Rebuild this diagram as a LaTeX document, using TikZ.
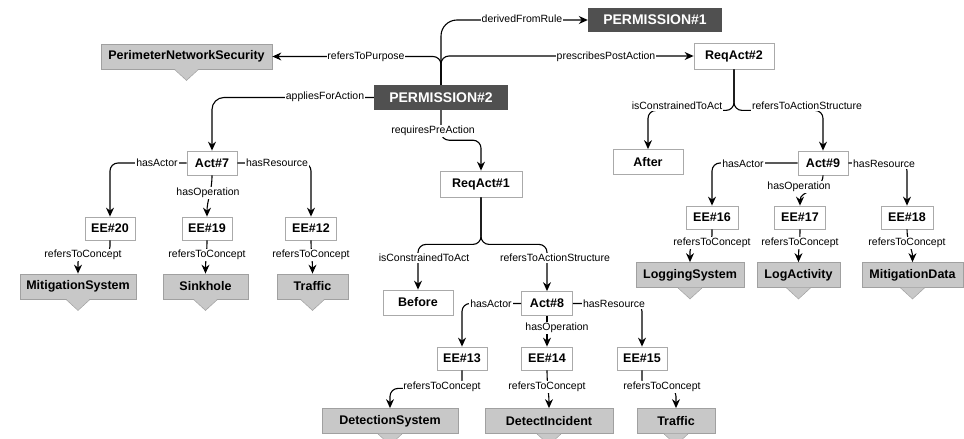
\documentclass[tikz,border=0pt]{standalone}
\usepackage{fontspec}
\setmainfont{Liberation Sans}
\usetikzlibrary{arrows.meta}

\definecolor{permfill}{HTML}{505050}
\definecolor{instborder}{HTML}{AAAAAA}
\definecolor{conceptfill}{HTML}{C8C8C8}
\definecolor{conceptborder}{HTML}{A0A0A0}

\tikzset{
  perm/.style={fill=permfill, text=white, inner sep=0pt, minimum height=24pt,
    font=\bfseries\fontsize{14}{16}\selectfont},
  inst/.style={draw=instborder, fill=white, line width=0.8pt, inner sep=0pt,
    minimum height=24pt, font=\bfseries\fontsize{12.5}{14}\selectfont},
  concept/.style={draw=conceptborder, fill=conceptfill, line width=0.8pt, inner sep=0pt,
    minimum height=25pt, font=\bfseries\fontsize{12.5}{14}\selectfont},
  lbl/.style={fill=white, inner sep=0.8pt, font=\fontsize{10.5}{12}\selectfont},
  edge/.style={draw, line width=1.1pt, rounded corners=8pt,
    -{Stealth[length=9pt,width=8pt,inset=3pt]}},
}

\begin{document}
\begin{tikzpicture}[x=1pt,y=-1pt]
\useasboundingbox (0,0) rectangle (964,439);

% permissions
\node[perm, minimum width=134pt] (p1) at (655,20) {PERMISSION\#1};
\node[perm, minimum width=134pt, minimum height=25pt] (p2) at (441,97.5) {PERMISSION\#2};

% required actions, actions, constraints
\node[inst, minimum width=80pt, minimum height=26pt] (ra2) at (734,56) {ReqAct\#2};
\node[inst, minimum width=82pt, minimum height=26pt] (ra1) at (481,184) {ReqAct\#1};
\node[inst, minimum width=70pt, minimum height=25pt] (after) at (648,162) {After};
\node[inst, minimum width=70pt, minimum height=25pt] (before) at (418,302.5) {Before};
\node[inst, minimum width=50pt] (a7) at (212,163) {Act\#7};
\node[inst, minimum width=51pt] (a8) at (547,303.5) {Act\#8};
\node[inst, minimum width=50pt] (a9) at (823,163) {Act\#9};

% entity expressions
\node[inst, minimum width=50pt, minimum height=23pt] (ee20) at (110,228.5) {EE\#20};
\node[inst, minimum width=50pt, minimum height=23pt] (ee19) at (207,228.5) {EE\#19};
\node[inst, minimum width=51pt, minimum height=23pt] (ee12) at (311,228.5) {EE\#12};
\node[inst, minimum width=52pt, minimum height=23pt] (ee16) at (712,217.5) {EE\#16};
\node[inst, minimum width=51pt, minimum height=23pt] (ee17) at (800,217.5) {EE\#17};
\node[inst, minimum width=52pt, minimum height=23pt] (ee18) at (907,217.5) {EE\#18};
\node[inst, minimum width=50pt, minimum height=23pt] (ee13) at (462,358.5) {EE\#13};
\node[inst, minimum width=51pt, minimum height=23pt] (ee14) at (547,358.5) {EE\#14};
\node[inst, minimum width=50pt, minimum height=23pt] (ee15) at (642,358.5) {EE\#15};

% concepts
\node[concept, minimum width=171pt] (pns) at (186.5,56.5) {PerimeterNetworkSecurity};
\node[concept, minimum width=116pt] (mitsys) at (78,286.5) {MitigationSystem};
\node[concept, minimum width=85pt] (sinkhole) at (205.5,286.5) {Sinkhole};
\node[concept, minimum width=71pt] (traffica) at (312.5,286.5) {Traffic};
\node[concept, minimum width=108pt] (logsys) at (690,275) {LoggingSystem};
\node[concept, minimum width=83pt] (logact) at (798.5,275) {LogActivity};
\node[concept, minimum width=101pt] (mitdata) at (912.5,275) {MitigationData};
\node[concept, minimum width=136pt] (detsys) at (390,421) {DetectionSystem};
\node[concept, minimum width=128pt] (detinc) at (549,421) {DetectIncident};
\node[concept, minimum width=78pt] (trafficb) at (676,421) {Traffic};

% pointer triangles below the concepts
\foreach \c in {pns,mitsys,sinkhole,traffica,logsys,logact,mitdata,detsys,detinc,trafficb}{
  \fill[conceptfill] ([xshift=-12pt,yshift=0.4pt]\c.south) -- ++(24,0) -- ++(-12,11) -- cycle;
  \draw[conceptborder, line width=0.6pt] ([xshift=-12pt]\c.south) -- ++(12,11) -- ++(12,-11);
}

% connectors from PERMISSION#2
\draw[edge, rounded corners=16pt] (p2.north) |- (p1.west);
\draw[edge] (p2.north) |- (pns.east);
\draw[edge] (p2.north) |- (ra2.west);
\draw[edge, rounded corners=12pt] (p2.west) -| (a7.north);
\draw[edge] (p2.south) -- ++(0,30) -| (ra1.north);

% ReqAct#1 branch
\draw[edge] (ra1.south) -- ++(0,47) -| (before.north);
\draw[edge] (ra1.south) -- ++(0,47) -| (a8.north);
\draw[edge] (a8.west) -| (ee13.north);
\draw[edge] (a8.south) -- (ee14.north);
\draw[edge] (a8.east) -| (ee15.north);
\draw[edge] (ee13.south) -- ++(0,18) -| (detsys.north);
\draw[edge] (ee14.south) to[out=-90,in=90] (detinc.north);
\draw[edge] (ee15.south) -- ++(0,18) -| (trafficb.north);

% Act#7 branch
\draw[edge] (a7.west) -| (ee20.north);
\draw[edge] (a7.south) to[out=-90,in=90] (ee19.north);
\draw[edge] (a7.east) -| (ee12.north);
\draw[edge] (ee20.south) -- ++(0,14) -| (mitsys.north);
\draw[edge] (ee19.south) to[out=-90,in=90] (sinkhole.north);
\draw[edge] (ee12.south) to[out=-90,in=90] (traffica.north);

% ReqAct#2 branch
\draw[edge] (ra2.south) -- ++(0,41) -| (after.north);
\draw[edge] (ra2.south) -- ++(0,41) -| (a9.north);
\draw[edge] (a9.west) -| (ee16.north);
\draw[edge] (a9.south) to[out=-90,in=90] (ee17.north);
\draw[edge] (a9.east) -| (ee18.north);
\draw[edge] (ee16.south) -- ++(0,14) -| (logsys.north);
\draw[edge] (ee17.south) to[out=-90,in=90] (logact.north);
\draw[edge] (ee18.south) to[out=-90,in=90] (mitdata.north);

% connector labels
\node[lbl] (l1) at (522,19) {derivedFromRule};
\node[lbl] (l2) at (366,57) {refersToPurpose};
\node[lbl] (l3) at (606,57) {prescribesPostAction};
\node[lbl] (l4) at (325,97) {appliesForAction};
\node[lbl] (l5) at (433,131) {requiresPreAction};
\node[lbl] (l6) at (424,258) {isConstrainedToAct};
\node[lbl] (l7) at (555,258) {refersToActionStructure};
\node[lbl] (l8) at (491,304) {hasActor};
\node[lbl] (l9) at (557,328) {hasOperation};
\node[lbl] (l10) at (614,304) {hasResource};
\node[lbl] (l11) at (442,387) {refersToConcept};
\node[lbl] (l12) at (547,387) {refersToConcept};
\node[lbl] (l13) at (662,387) {refersToConcept};
\node[lbl] (l14) at (157,163) {hasActor};
\node[lbl] (l15) at (208,193) {hasOperation};
\node[lbl] (l16) at (277,163) {hasResource};
\node[lbl] (l17) at (83,255) {refersToConcept};
\node[lbl] (l18) at (207,255) {refersToConcept};
\node[lbl] (l19) at (311,255) {refersToConcept};
\node[lbl] (l20) at (677,106) {isConstrainedToAct};
\node[lbl] (l21) at (807,106) {refersToActionStructure};
\node[lbl] (l22) at (743,164) {hasActor};
\node[lbl] (l23) at (799,187) {hasOperation};
\node[lbl] (l24) at (884,164) {hasResource};
\node[lbl] (l25) at (712,243) {refersToConcept};
\node[lbl] (l26) at (800,243) {refersToConcept};
\node[lbl] (l27) at (907,243) {refersToConcept};
\end{tikzpicture}
\end{document}
